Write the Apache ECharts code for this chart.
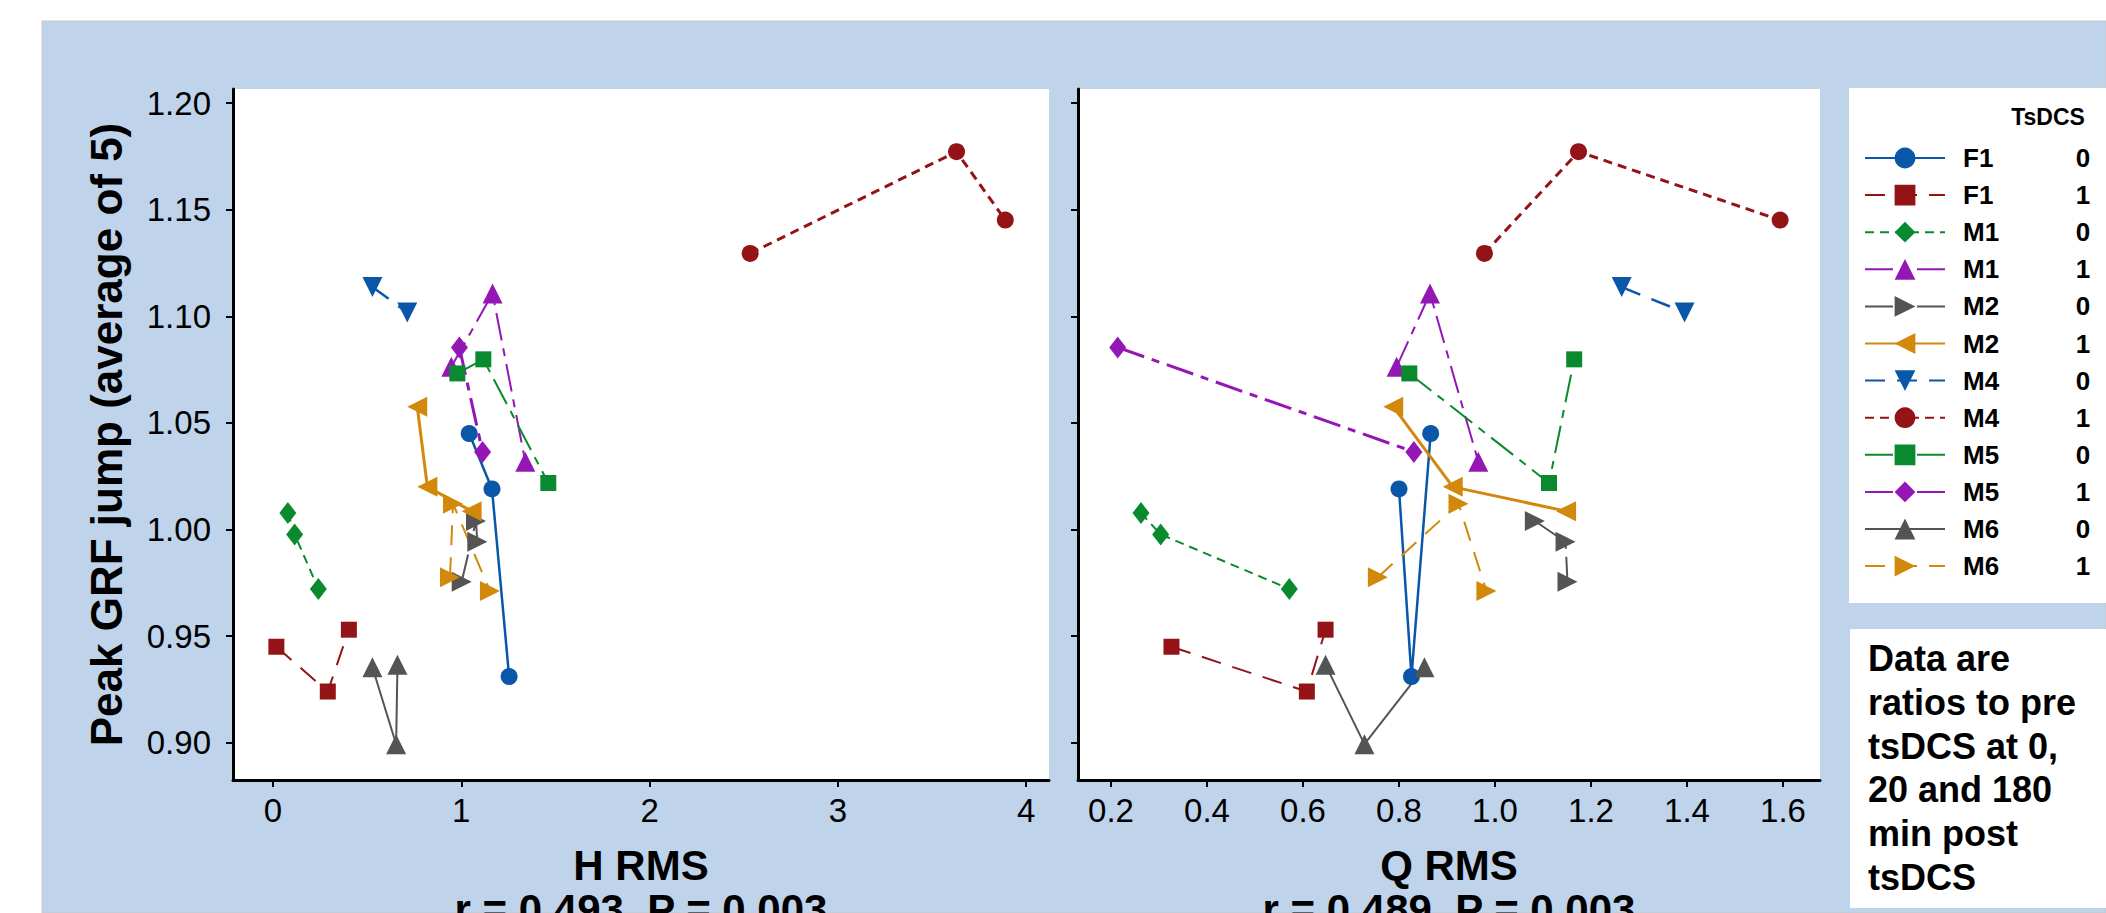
<!DOCTYPE html>
<html>
<head>
<meta charset="utf-8">
<title>Peak GRF jump vs H RMS and Q RMS</title>
<script src="https://cdn.jsdelivr.net/npm/echarts@6/dist/echarts.min.js"></script>
<style>
  html, body { margin: 0; padding: 0; background: #fff; }
  #chart { width: 2106px; height: 913px; }
</style>
</head>
<body>
<div id="chart"></div>
<script>
// tick labels
var grfTicks = [0.90, 0.95, 1.00, 1.05, 1.10, 1.15, 1.20];
var hTicks = [0, 1, 2, 3, 4];
var qTicks = [0.2, 0.4, 0.6, 0.8, 1.0, 1.2, 1.4, 1.6];

// legend rows (animal, TsDCS flag)
var animals = ['F1', 'F1', 'M1', 'M1', 'M2', 'M2', 'M4', 'M4', 'M5', 'M5', 'M6', 'M6'];
var tsdcs = [0, 1, 0, 1, 0, 1, 0, 1, 0, 1, 0, 1];

// peak GRF jump ratio, H RMS and Q RMS for each animal / TsDCS group
var grfF1_0 = [1.045, 1.019, 0.931];
var hF1_0 = [1.042, 1.163, 1.254];
var qF1_0 = [0.866, 0.800, 0.826];

var grfF1_1 = [0.945, 0.924, 0.953];
var hF1_1 = [0.018, 0.291, 0.403];
var qF1_1 = [0.326, 0.608, 0.647];

var grfM1_0 = [1.0077, 0.9977, 0.9721];
var hM1_0 = [0.079, 0.115, 0.241];
var qM1_0 = [0.2625, 0.3035, 0.5715];

var grfM1_1 = [1.0763, 1.1107, 1.0318];
var hM1_1 = [0.947, 1.166, 1.340];
var qM1_1 = [0.795, 0.8646, 0.9652];

var grfM2_0 = [1.0040, 0.9942, 0.9755];
var hM2_0 = [1.078, 1.085, 1.002];
var qM2_0 = [1.083, 1.147, 1.151];

var grfM2_1 = [1.0576, 1.0200, 1.0086];
var hM2_1 = [0.766, 0.820, 1.055];
var qM2_1 = [0.788, 0.912, 1.148];

var grfM4_0 = [1.1137, 1.1018];
var hM4_0 = [0.528, 0.713];
var qM4_0 = [1.264, 1.395];

var grfM4_1 = [1.1295, 1.1772, 1.1451];
var hM4_1 = [2.534, 3.630, 3.889];
var qM4_1 = [0.978, 1.174, 1.594];

var grfM5_0 = [1.0732, 1.0798, 1.0218];
var hM5_0 = [0.979, 1.117, 1.462];
var qM5_0 = [0.8215, 1.165, 1.1125];

var grfM5_1 = [1.0854, 1.0364];
var hM5_1 = [0.990, 1.113];
var qM5_1 = [0.214, 0.831];

var grfM6_0 = [0.9354, 0.8993, 0.9365];
var hM6_0 = [0.528, 0.654, 0.661];
var qM6_0 = [0.853, 0.728, 0.647];

var grfM6_1 = [0.9776, 1.0121, 0.9712];
var hM6_1 = [0.940, 0.956, 1.152];
var qM6_1 = [0.756, 0.924, 0.982];

var grfAll = [grfF1_0, grfF1_1, grfM1_0, grfM1_1, grfM2_0, grfM2_1, grfM4_0, grfM4_1, grfM5_0, grfM5_1, grfM6_0, grfM6_1];
var hAll = [hF1_0, hF1_1, hM1_0, hM1_1, hM2_0, hM2_1, hM4_0, hM4_1, hM5_0, hM5_1, hM6_0, hM6_1];
var qAll = [qF1_0, qF1_1, qM1_0, qM1_1, qM2_0, qM2_1, qM4_0, qM4_1, qM5_0, qM5_1, qM6_0, qM6_1];

(function(){
	var FONT = 'Liberation Sans, Arial, sans-serif';
	var BLUE = '#0a56a8', RED = '#931316', GREEN = '#0a8a2e', PURPLE = '#9417b5', GREY = '#545454', ORANGE = '#d2880b';
	var LONG = [20, 12], SHORT = [9, 6], DASHDOT = [28, 8, 8, 8];

	// marker / line look of each group, same order as the legend
	var looks = [
		{c: BLUE,   s: 'circle',   r: 0,   z: 17,       t: 'solid', w: 2.5},
		{c: RED,    s: 'rect',     r: 0,   z: 16,       t: LONG,    w: 2},
		{c: GREEN,  s: 'diamond',  r: 0,   z: [17, 22], t: SHORT,   w: 2},
		{c: PURPLE, s: 'triangle', r: 0,   z: 20,       t: DASHDOT, w: 2},
		{c: GREY,   s: 'triangle', r: -90, z: 20,       t: DASHDOT, w: 2},
		{c: ORANGE, s: 'triangle', r: 90,  z: 20,       t: 'solid', w: 3},
		{c: BLUE,   s: 'triangle', r: 180, z: 20,       t: LONG,    w: 2.5},
		{c: RED,    s: 'circle',   r: 0,   z: 17,       t: SHORT,   w: 3},
		{c: GREEN,  s: 'rect',     r: 0,   z: 16,       t: DASHDOT, w: 2},
		{c: PURPLE, s: 'diamond',  r: 0,   z: [17, 22], t: DASHDOT, w: 3},
		{c: GREY,   s: 'triangle', r: 0,   z: 20,       t: 'solid', w: 2},
		{c: ORANGE, s: 'triangle', r: -90, z: 20,       t: LONG,    w: 2}
	];

	// Minitab joins the points of a group in x order
	function pairs(xs, ys) {
		var pts = xs.map(function(x, i){ return [x, ys[i]]; });
		pts.sort(function(a, b){ return a[0] - b[0]; });
		return pts;
	}

	var names = animals.map(function(a, i){ return a + ' ' + tsdcs[i]; });
	var series = [];
	[hAll, qAll].forEach(function(xAll, g){
		names.forEach(function(nm, i){
			var lk = looks[i];
			series.push({
				name: nm,
				type: 'line',
				xAxisIndex: g,
				yAxisIndex: g,
				data: pairs(xAll[i], grfAll[i]),
				symbol: lk.s,
				symbolSize: lk.z,
				symbolRotate: lk.r,
				itemStyle: {color: lk.c},
				lineStyle: {color: lk.c, width: lk.w, type: lk.t},
				emphasis: {disabled: true},
				animation: false
			});
		});
	});

	function xAxisOf(g, min, max, ticks, title, stat, fmt) {
		return {
			type: 'value', gridIndex: g, min: min, max: max,
			name: '{a|' + title + '}\n{b|' + stat + '}',
			nameLocation: 'middle', nameGap: 63,
			nameTextStyle: {
				verticalAlign: 'top', align: 'center',
				rich: {
					a: {fontFamily: FONT, fontWeight: 'bold', fontSize: 42, lineHeight: 44, color: '#000'},
					b: {fontFamily: FONT, fontWeight: 'bold', fontSize: 42, lineHeight: 44, color: '#000'}
				}
			},
			axisLine: {onZero: false, lineStyle: {color: '#000', width: 3}},
			axisTick: {length: 7, lineStyle: {color: '#000', width: 2}, customValues: ticks},
			axisLabel: {fontFamily: FONT, fontSize: 33, color: '#000', margin: 14, customValues: ticks, formatter: fmt},
			splitLine: {show: false}
		};
	}

	function yAxisOf(g, showLabel) {
		return {
			type: 'value', gridIndex: g, min: 0.8825, max: 1.2066,
			name: showLabel ? 'Peak GRF jump (average of 5)' : '',
			nameLocation: 'middle', nameGap: 127, nameRotate: 90,
			nameTextStyle: {fontFamily: FONT, fontWeight: 'bold', fontSize: 44, color: '#000', verticalAlign: 'middle'},
			axisLine: {onZero: false, lineStyle: {color: '#000', width: 3}},
			axisTick: {length: 7, lineStyle: {color: '#000', width: 2}, customValues: grfTicks},
			axisLabel: {show: showLabel, fontFamily: FONT, fontSize: 33, color: '#000', margin: 22,
				customValues: grfTicks, formatter: function(v){ return v.toFixed(2); }},
			splitLine: {show: false}
		};
	}

	var chart = echarts.init(document.getElementById('chart'), null, {renderer: 'svg'});
	var option = {
		backgroundColor: '#fff',
		animation: false,
		graphic: {elements: [
			{type: 'rect', z: -10, shape: {x: 42, y: 21, width: 2064, height: 892},
				style: {fill: '#bfd3eb', stroke: '#c9c9c9', lineWidth: 1}},
			{type: 'rect', z: -9, shape: {x: 1849, y: 88, width: 257, height: 515}, style: {fill: '#fff'}},
			{type: 'rect', z: -9, shape: {x: 1850, y: 629, width: 256, height: 279}, style: {fill: '#fff'}},
			{type: 'text', z: 5, x: 2048, y: 117,
				style: {text: 'TsDCS', fill: '#000', font: 'bold 23px ' + FONT, textAlign: 'center', textVerticalAlign: 'middle'}},
			{type: 'text', z: 5, x: 1868, y: 637,
				style: {text: 'Data are\nratios to pre\ntsDCS at 0,\n20 and 180\nmin post\ntsDCS',
					fill: '#000', font: 'bold 36px ' + FONT, lineHeight: 43.7, textAlign: 'left', textVerticalAlign: 'top'}}
		]},
		legend: {
			orient: 'vertical',
			left: 1859, top: 140,
			itemWidth: 80, itemHeight: 26, itemGap: 11.1,
			selectedMode: false,
			data: names,
			formatter: function(nm){
				var p = nm.split(' ');
				return '{s|}{n|' + p[0] + '}{v|' + p[1] + '}';
			},
			textStyle: {
				rich: {
					s: {width: 13, lineHeight: 20},
					n: {width: 107, fontFamily: FONT, fontWeight: 'bold', fontSize: 26, color: '#000', lineHeight: 20},
					v: {width: 26, align: 'center', fontFamily: FONT, fontWeight: 'bold', fontSize: 26, color: '#000', lineHeight: 20}
				}
			}
		},
		grid: [
			{left: 233, top: 89, width: 816, height: 691, show: true, backgroundColor: '#fff', borderWidth: 0, containLabel: false, outerBoundsMode: 'none'},
			{left: 1078, top: 89, width: 742, height: 691, show: true, backgroundColor: '#fff', borderWidth: 0, containLabel: false, outerBoundsMode: 'none'}
		],
		xAxis: [
			xAxisOf(0, -0.2124, 4.1211, hTicks, 'H RMS', 'r = 0.493, P = 0.003', function(v){ return String(v); }),
			xAxisOf(1, 0.13125, 1.6771, qTicks, 'Q RMS', 'r = 0.489, P = 0.003', function(v){ return v.toFixed(1); })
		],
		yAxis: [yAxisOf(0, true), yAxisOf(1, false)],
		series: series
	};
	chart.setOption(option);
	window.addEventListener('resize', function(){
		chart.resize();
	});
})();
</script>
</body>
</html>
